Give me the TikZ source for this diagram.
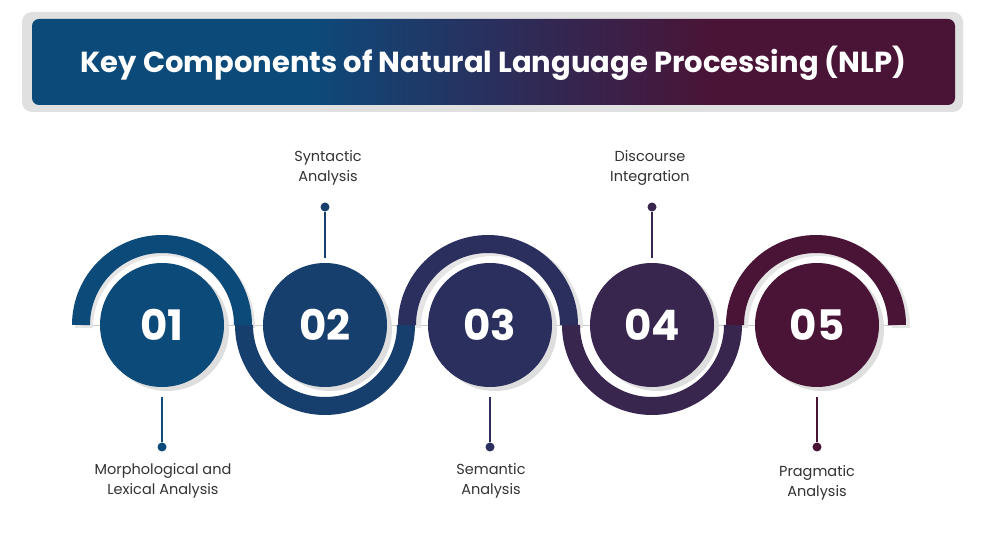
\documentclass[tikz,border=0pt]{standalone}
\usepackage{fontspec}
\setmainfont{Poppins}
\usetikzlibrary{shadows}
\definecolor{cA}{HTML}{0C4A7A}
\definecolor{cB}{HTML}{173F6E}
\definecolor{cC}{HTML}{2A2F5D}
\definecolor{cD}{HTML}{38264F}
\definecolor{cE}{HTML}{4A1436}
\definecolor{txt}{HTML}{333333}
\pgfdeclarehorizontalshading{ttl}{100bp}{color(0bp)=(cA); color(40bp)=(cA); color(50bp)=(cC); color(62bp)=(cE); color(100bp)=(cE)}
\begin{document}
\begin{tikzpicture}[x=1pt,y=-1pt,
  num/.style={circle,minimum size=124pt,inner sep=0pt,text=white,font=\bfseries\fontsize{42}{42}\selectfont},
  lbl/.style={align=center,text=txt,font=\fontsize{14.5}{19.5}\selectfont},
  dot/.style={circle,fill=#1,minimum size=9pt,inner sep=0pt},
  band/.style={line width=18pt,#1},
  stalk/.style={line width=1.2pt,#1}]
\useasboundingbox (0,0) rectangle (986,534);
\fill[white] (0,0) rectangle (986,534);
% title
\fill[black!12,rounded corners=10pt] (22,12) rectangle (963,112);
\shade[shading=ttl,rounded corners=7pt] (32,19) rectangle (955,105);
\node[text=white,font=\bfseries\fontsize{29}{29}\selectfont] (title) at (493.5,63) {Key Components of Natural Language Processing (NLP)};
% faint axis
\draw[black!20,line width=0.6pt] (90,325) -- (900,325);
% band shadows
\foreach \x/\s in {162/180,325/0,490/180,652/0,817/180}{
  \draw[line width=18pt,black!10] (\x+84,328) arc[start angle=0,end angle=\s*1-180+180,radius=81pt];
}
% bands
\draw[band=cA] (81,325) arc[start angle=180,end angle=0,radius=81pt];
\draw[band=cB] (244,325) arc[start angle=180,end angle=360,radius=81pt];
\draw[band=cC] (407,325) arc[start angle=180,end angle=0,radius=81pt];
\draw[band=cD] (571,325) arc[start angle=180,end angle=360,radius=81pt];
\draw[band=cE] (735,325) arc[start angle=180,end angle=0,radius=81pt];
% circle shadows
\foreach \x in {162,325,490,652,817}{\fill[black!13] (\x+5,329) circle[radius=62pt];}
\node[num,fill=cA] (n1) at (162,325) {01};
\node[num,fill=cB] (n2) at (325,325) {02};
\node[num,fill=cC] (n3) at (490,325) {03};
\node[num,fill=cD] (n4) at (652,325) {04};
\node[num,fill=cE] (n5) at (817,325) {05};
% dots
\node[dot=cA] (d1) at (162,447) {};
\node[dot=cB] (d2) at (325,207) {};
\node[dot=cC] (d3) at (490,447) {};
\node[dot=cD] (d4) at (652,207) {};
\node[dot=cE] (d5) at (817,447) {};
\draw[stalk=cA] (d1) -- (162,397);
\draw[stalk=cB] (d2) -- (325,258);
\draw[stalk=cC] (d3) -- (490,397);
\draw[stalk=cD] (d4) -- (652,258);
\draw[stalk=cE] (d5) -- (817,397);
% labels
\node[lbl] (l1) at (163,481) {Morphological and\\Lexical Analysis};
\node[lbl] (l2) at (328,168) {Syntactic\\Analysis};
\node[lbl] (l3) at (491,481) {Semantic\\Analysis};
\node[lbl] (l4) at (650,168) {Discourse\\Integration};
\node[lbl] (l5) at (817,483) {Pragmatic\\Analysis};
\end{tikzpicture}
\end{document}
